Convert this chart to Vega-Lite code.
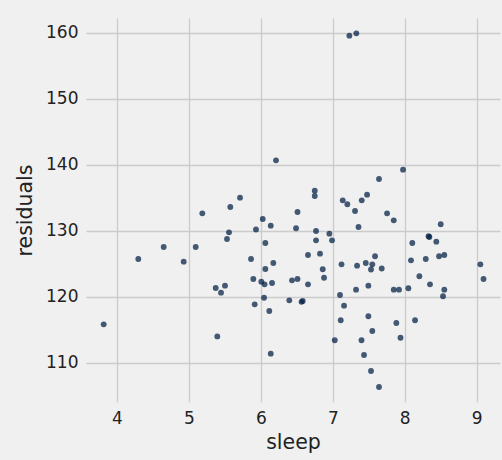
{
  "$schema": "https://vega.github.io/schema/vega-lite/v6.json",
  "width": 414,
  "height": 384,
  "autosize": {"type": "none"},
  "padding": {"left": 86, "top": 18, "right": 2, "bottom": 58},
  "background": "#f0f0f0",
  "config": {
    "view": {"stroke": null, "fill": "#f0f0f0"},
    "font": "DejaVu Sans",
    "axis": {
      "domain": false,
      "ticks": false,
      "grid": true,
      "gridColor": "#cbcbcb",
      "gridWidth": 1.3,
      "labelFont": "DejaVu Sans",
      "labelFontSize": 17,
      "labelColor": "#222222",
      "labelPadding": 8,
      "titleFont": "DejaVu Sans",
      "titleFontSize": 20.5,
      "titleFontWeight": "normal",
      "titleColor": "#222222"
    }
  },
  "data": {
    "values": [
      {"sleep": 3.815, "residuals": 115.86},
      {"sleep": 4.296, "residuals": 125.76},
      {"sleep": 4.649, "residuals": 127.58},
      {"sleep": 4.927, "residuals": 125.35},
      {"sleep": 5.094, "residuals": 127.58},
      {"sleep": 5.186, "residuals": 132.68},
      {"sleep": 5.372, "residuals": 121.36},
      {"sleep": 5.446, "residuals": 120.65},
      {"sleep": 5.501, "residuals": 121.71},
      {"sleep": 5.394, "residuals": 114.02},
      {"sleep": 5.529, "residuals": 128.79},
      {"sleep": 5.557, "residuals": 129.8},
      {"sleep": 5.575, "residuals": 133.64},
      {"sleep": 5.71, "residuals": 135.05},
      {"sleep": 5.863, "residuals": 125.76},
      {"sleep": 5.895, "residuals": 122.73},
      {"sleep": 5.914, "residuals": 118.89},
      {"sleep": 5.932, "residuals": 130.23},
      {"sleep": 6.026, "residuals": 131.82},
      {"sleep": 6.006, "residuals": 122.32},
      {"sleep": 6.051, "residuals": 121.92},
      {"sleep": 6.044, "residuals": 119.89},
      {"sleep": 6.062, "residuals": 128.18},
      {"sleep": 6.062, "residuals": 124.24},
      {"sleep": 6.117, "residuals": 117.88},
      {"sleep": 6.137, "residuals": 130.8},
      {"sleep": 6.137, "residuals": 111.41},
      {"sleep": 6.155, "residuals": 122.12},
      {"sleep": 6.173, "residuals": 125.15},
      {"sleep": 6.21, "residuals": 140.71},
      {"sleep": 6.395, "residuals": 119.5},
      {"sleep": 6.433, "residuals": 122.53},
      {"sleep": 6.489, "residuals": 130.41},
      {"sleep": 6.509, "residuals": 132.88},
      {"sleep": 6.509, "residuals": 122.73},
      {"sleep": 6.582, "residuals": 119.39},
      {"sleep": 6.565, "residuals": 119.27},
      {"sleep": 6.655, "residuals": 126.36},
      {"sleep": 6.655, "residuals": 121.92},
      {"sleep": 6.749, "residuals": 136.11},
      {"sleep": 6.749, "residuals": 135.3},
      {"sleep": 6.767, "residuals": 130.0},
      {"sleep": 6.767, "residuals": 128.59},
      {"sleep": 6.822, "residuals": 126.56},
      {"sleep": 6.86, "residuals": 124.2},
      {"sleep": 6.878, "residuals": 122.92},
      {"sleep": 6.952, "residuals": 129.59},
      {"sleep": 6.989, "residuals": 128.59},
      {"sleep": 7.027, "residuals": 113.44},
      {"sleep": 7.1, "residuals": 120.3},
      {"sleep": 7.11, "residuals": 116.47},
      {"sleep": 7.121, "residuals": 124.95},
      {"sleep": 7.138, "residuals": 134.65},
      {"sleep": 7.156, "residuals": 118.68},
      {"sleep": 7.202, "residuals": 134.05},
      {"sleep": 7.23, "residuals": 159.59},
      {"sleep": 7.327, "residuals": 159.95},
      {"sleep": 7.309, "residuals": 133.03},
      {"sleep": 7.323, "residuals": 121.11},
      {"sleep": 7.337, "residuals": 124.74},
      {"sleep": 7.357, "residuals": 130.61},
      {"sleep": 7.399, "residuals": 113.44},
      {"sleep": 7.402, "residuals": 134.65},
      {"sleep": 7.434, "residuals": 111.21},
      {"sleep": 7.458, "residuals": 125.15},
      {"sleep": 7.476, "residuals": 135.5},
      {"sleep": 7.494, "residuals": 121.71},
      {"sleep": 7.494, "residuals": 117.08},
      {"sleep": 7.531, "residuals": 124.17},
      {"sleep": 7.531, "residuals": 108.79},
      {"sleep": 7.549, "residuals": 124.95},
      {"sleep": 7.549, "residuals": 114.85},
      {"sleep": 7.587, "residuals": 126.17},
      {"sleep": 7.642, "residuals": 137.88},
      {"sleep": 7.642, "residuals": 106.36},
      {"sleep": 7.68, "residuals": 124.32},
      {"sleep": 7.754, "residuals": 132.68},
      {"sleep": 7.847, "residuals": 131.62},
      {"sleep": 7.847, "residuals": 121.11},
      {"sleep": 7.883, "residuals": 116.06},
      {"sleep": 7.92, "residuals": 121.11},
      {"sleep": 7.941, "residuals": 113.83},
      {"sleep": 7.976, "residuals": 139.29},
      {"sleep": 8.05, "residuals": 121.32},
      {"sleep": 8.087, "residuals": 125.56},
      {"sleep": 8.105, "residuals": 128.18},
      {"sleep": 8.143, "residuals": 116.47},
      {"sleep": 8.203, "residuals": 123.14},
      {"sleep": 8.292, "residuals": 125.76},
      {"sleep": 8.342, "residuals": 129.09},
      {"sleep": 8.331, "residuals": 129.2},
      {"sleep": 8.351, "residuals": 121.92},
      {"sleep": 8.439, "residuals": 128.38},
      {"sleep": 8.477, "residuals": 126.17},
      {"sleep": 8.5, "residuals": 131.02},
      {"sleep": 8.532, "residuals": 120.11},
      {"sleep": 8.55, "residuals": 126.36},
      {"sleep": 8.55, "residuals": 121.11},
      {"sleep": 9.051, "residuals": 124.95},
      {"sleep": 9.095, "residuals": 122.73}
    ]
  },
  "mark": {"type": "circle", "size": 34, "color": "#001e42", "opacity": 0.72},
  "encoding": {
    "x": {
      "field": "sleep",
      "type": "quantitative",
      "scale": {"domain": [3.569, 9.324], "nice": false, "zero": false},
      "axis": {"values": [4, 5, 6, 7, 8, 9], "title": "sleep", "titlePadding": 6}
    },
    "y": {
      "field": "residuals",
      "type": "quantitative",
      "scale": {"domain": [104.09, 162.27], "nice": false, "zero": false},
      "axis": {"values": [110, 120, 130, 140, 150, 160], "title": "residuals", "titlePadding": 10}
    }
  }
}
